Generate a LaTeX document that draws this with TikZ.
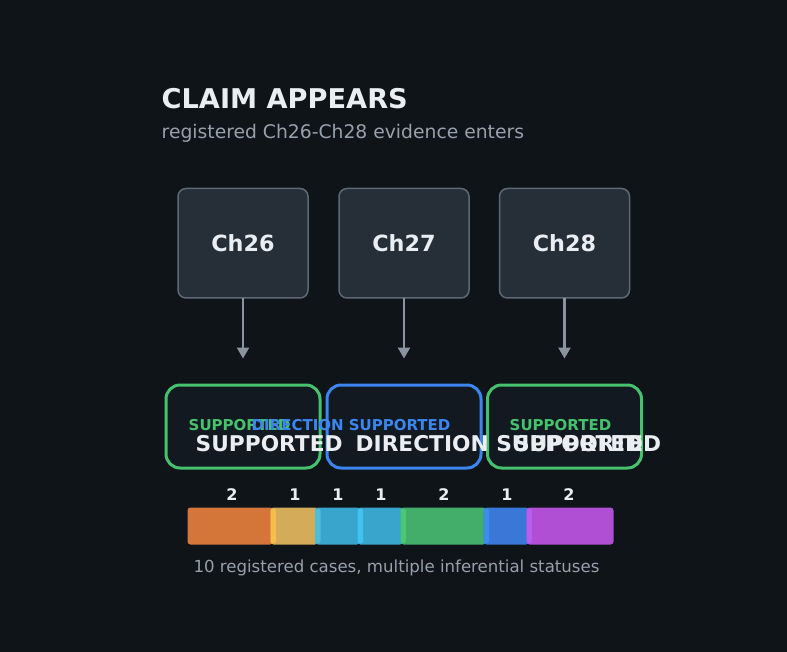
\documentclass[tikz,border=0pt]{standalone}
\usepackage{fontspec}
\setmainfont{DejaVu Sans}
\usetikzlibrary{arrows.meta}
\definecolor{bg}{HTML}{0F1419}
\definecolor{chfill}{HTML}{262F38}
\definecolor{chline}{HTML}{5E6873}
\definecolor{arr}{HTML}{8B949E}
\definecolor{lowfill}{HTML}{121920}
\definecolor{gr}{HTML}{46C26E}
\definecolor{bl}{HTML}{3B86F0}
\definecolor{wt}{HTML}{EAEEF2}
\definecolor{gy}{HTML}{98A1AB}
\definecolor{s1}{HTML}{D4763A}
\definecolor{s2}{HTML}{D4AC59}
\definecolor{s2e}{HTML}{F4BE4E}
\definecolor{s3}{HTML}{3AA5CC}
\definecolor{s3e}{HTML}{4DBDD9}
\definecolor{s4}{HTML}{3AA5CC}
\definecolor{s4e}{HTML}{3EC4EE}
\definecolor{s5}{HTML}{42AE69}
\definecolor{s5e}{HTML}{4AC775}
\definecolor{s6}{HTML}{3A78D8}
\definecolor{s6e}{HTML}{3B8EE9}
\definecolor{s7}{HTML}{B04ED4}
\definecolor{s7e}{HTML}{B75DF0}
\tikzset{
  chbox/.style={draw=chline, fill=chfill, line width=1.5pt, rounded corners=8pt},
  lowbox/.style={fill=lowfill, line width=3pt, rounded corners=14pt},
  chtext/.style={font=\fontsize{22.3}{26}\selectfont\bfseries, text=wt, inner sep=0pt},
  lab/.style={font=\fontsize{15}{18}\selectfont\bfseries, inner sep=0pt, anchor=base west},
  big/.style={font=\fontsize{21.7}{25}\selectfont\bfseries, text=wt, inner sep=0pt, anchor=base west},
  num/.style={font=\fontsize{16}{19}\selectfont\bfseries, text=wt, inner sep=0pt, anchor=base},
  flow/.style={draw=arr, line width=2.4pt, -{Triangle[length=11pt,width=12pt]}},
  seg/.style={rounded corners=3pt},
  edge/.style={rounded corners=2.5pt}
}
\begin{document}
\begin{tikzpicture}[x=1pt,y=-1pt]
\fill[bg] (0,0) rectangle (787,652);
\useasboundingbox (0,0) rectangle (787,652);

\node[anchor=base west, inner sep=0pt, text=wt, font=\fontsize{27.2}{32}\selectfont\bfseries] (title) at (161.5,108.5) {CLAIM APPEARS};
\node[anchor=base west, inner sep=0pt, text=gy, font=\fontsize{18.75}{22}\selectfont] (sub) at (161.5,139) {registered Ch26-Ch28 evidence enters};

% chapter boxes
\draw[chbox] (178,188.5) rectangle (308,298);
\draw[chbox] (339,188.5) rectangle (469,298);
\draw[chbox] (499.5,188.5) rectangle (629.5,298);
\node[chtext] (c26) at (243,243.5) {Ch26};
\node[chtext] (c27) at (404,243.5) {Ch27};
\node[chtext] (c28) at (564.5,243.5) {Ch28};
\coordinate (t26) at (243,298);
\coordinate (t27) at (404,298);
\coordinate (t28) at (564.5,298);
\coordinate (h26) at (243,358.5);
\coordinate (h27) at (404,358.5);
\coordinate (h28) at (564.5,358.5);
\draw[flow] (t26) -- (h26);
\draw[flow] (t27) -- (h27);
\draw[flow] (t28) -- (h28);

% status boxes
\draw[lowbox, draw=gr] (166,385) rectangle (320,468);
\draw[lowbox, draw=bl] (327,385) rectangle (481,468);
\draw[lowbox, draw=gr] (487.5,385) rectangle (641.5,468);

\node[lab, text=gr] (l1) at (188.5,430.5) {SUPPORTED};
\node[lab, text=bl] (l2) at (251.5,430.5) {DIRECTION SUPPORTED};
\node[lab, text=gr] (l3) at (509.5,430.5) {SUPPORTED};

\node[big] (w1) at (195.5,451.5) {SUPPORTED};
\node[big] (w2) at (355.5,451.5) {DIRECTION SUPPORTED};
\node[big] (w3) at (514,451.5) {SUPPORTED};

% bar
\fill[seg, s1] (187.5,507.5) rectangle (273,544.5);
\fill[seg, s2] (270.5,507.5) rectangle (318,544.5);
\fill[seg, s3] (315,507.5) rectangle (360,544.5);
\fill[seg, s4] (357.5,507.5) rectangle (403,544.5);
\fill[seg, s5] (400.5,507.5) rectangle (486,544.5);
\fill[seg, s6] (483.5,507.5) rectangle (529,544.5);
\fill[seg, s7] (526.5,507.5) rectangle (613.5,544.5);
\fill[edge, s2e] (270.5,508.5) rectangle (276,543.5);
\fill[edge, s3e] (315,508.5) rectangle (320.5,543.5);
\fill[edge, s4e] (357.5,508.5) rectangle (363,543.5);
\fill[edge, s5e] (400.5,508.5) rectangle (406,543.5);
\fill[edge, s6e] (483.5,508.5) rectangle (489,543.5);
\fill[edge, s7e] (526.5,508.5) rectangle (532,543.5);

\node[num] (n1) at (232,500) {2};
\node[num] (n2) at (295,500) {1};
\node[num] (n3) at (338,500) {1};
\node[num] (n4) at (381,500) {1};
\node[num] (n5) at (444,500) {2};
\node[num] (n6) at (507,500) {1};
\node[num] (n7) at (569,500) {2};

\node[anchor=base, inner sep=0pt, text=gy, font=\fontsize{16.6}{20}\selectfont] (cap) at (396.5,572) {10 registered cases, multiple inferential statuses};
\end{tikzpicture}
\end{document}
